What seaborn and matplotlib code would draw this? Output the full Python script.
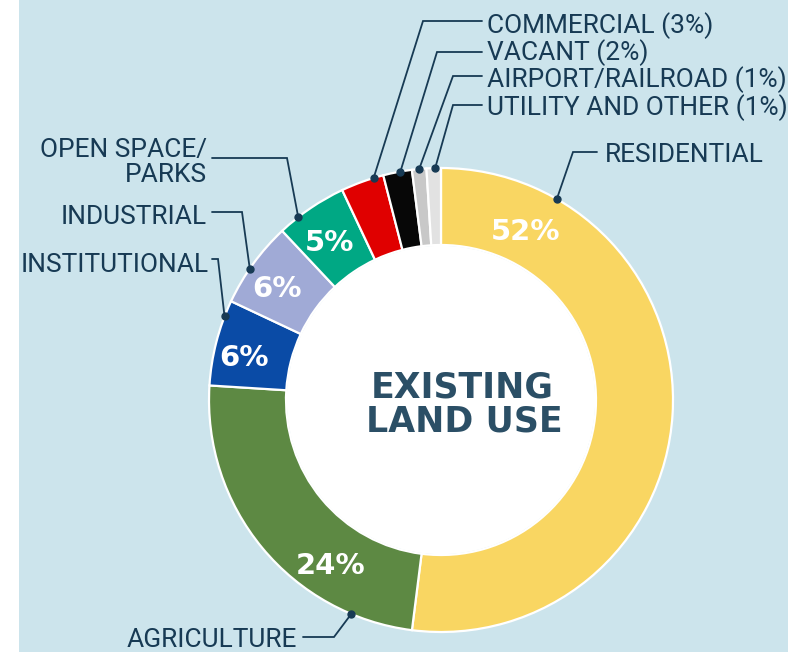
import matplotlib
matplotlib.use("Agg")
import matplotlib.pyplot as plt
import seaborn as sns
import numpy as np
from matplotlib.patches import Rectangle, Circle

# ---- data ----
categories = ["RESIDENTIAL", "AGRICULTURE", "INSTITUTIONAL", "INDUSTRIAL",
              "OPEN SPACE/\nPARKS", "COMMERCIAL", "VACANT", "AIRPORT/RAILROAD",
              "UTILITY AND OTHER"]
shares = [52, 24, 6, 6, 5, 3, 2, 1, 1]
colors = ["#F9D662", "#5D8943", "#0A4BA6", "#A0AAD6", "#00A884",
          "#E00000", "#070707", "#C8C8C8", "#E2E2E2"]
inside_labels = ["52%", "24%", "6%", "6%", "5%", None, None, None, None]
outside_labels = ["RESIDENTIAL", "AGRICULTURE", "INSTITUTIONAL", "INDUSTRIAL",
                  "OPEN SPACE/\nPARKS", "COMMERCIAL (3%)", "VACANT (2%)",
                  "AIRPORT/RAILROAD (1%)", "UTILITY AND OTHER (1%)"]

sns.set_theme(style="white")
plt.rcParams['font.family'] = ['Roboto', 'DejaVu Sans']

W, H = 788, 652
fig = plt.figure(figsize=(W / 100, H / 100), dpi=100)
fig.patch.set_facecolor("white")
ax = fig.add_axes([0, 0, 1, 1])

def P(x, y):
    """pixel (y down) -> data coords"""
    return x, H - y

CX, CY = P(441, 400)
R_OUT, R_IN = 232, 155

wedges, _ = ax.pie(shares, colors=colors, startangle=90, counterclock=False,
                   radius=R_OUT, center=(CX, CY),
                   wedgeprops=dict(width=R_OUT - R_IN, edgecolor="white",
                                   linewidth=1.6))
ax.set_xlim(0, W)
ax.set_ylim(0, H)
ax.set_aspect("equal")
ax.axis("off")
ax.add_patch(Rectangle((19, 0), W - 19, H, facecolor="#CCE4EC",
                       edgecolor="none", zorder=-10))
ax.add_patch(Circle((CX, CY), R_IN - 0.8, facecolor="white",
                    edgecolor="none", zorder=1))

def wedge_point(w, f, r):
    # f measured clockwise from wedge start
    ang = np.deg2rad(w.theta2 - f * (w.theta2 - w.theta1))
    return CX + r * np.cos(ang), CY + r * np.sin(ang)

VOFF = 3  # visual centring offset (px down)

# inside percentage labels
label_frac = [0.14, 0.31, 0.43, 0.45, 0.47]
label_rad = [191, 197, 202, 200, 195]
for i, lab in enumerate(inside_labels):
    if lab is None:
        continue
    x, y = wedge_point(wedges[i], label_frac[i], label_rad[i])
    ax.text(x, y - VOFF, lab, color="white", fontsize=21, fontweight="bold",
            family="DejaVu Sans", ha="center", va="center", zorder=4)

# centre title
title_col = "#2B4F66"
ax.text(*P(462, 388), "EXISTING", color=title_col, fontsize=25,
        fontweight="bold", family="DejaVu Sans", ha="center", va="center",
        zorder=4)
ax.text(*P(464, 422), "LAND USE", color=title_col, fontsize=25,
        fontweight="bold", family="DejaVu Sans", ha="center", va="center",
        zorder=4)

# leader lines: (dot fraction, elbow, end, text pos, ha)
line_col = "#173A54"
leaders = [
    (0.16, (573, 152), (597, 152), (605, 152), "left"),
    (0.18, (334, 637), (303, 637), (297, 637), "right"),
    (0.81, (218, 259), (212, 259), (209, 262), "right"),
    (0.43, (242, 212), (212, 212), (207, 214), "right"),
    (0.29, (287, 158), (212, 158), (207, 159), "right"),
    (0.77, (423, 21), (482, 21), (487, 23), "left"),
    (0.60, (437, 52), (482, 52), (487, 50), "left"),
    (0.50, (453, 76), (482, 76), (487, 77), "left"),
    (0.60, (453, 105), (482, 105), (487, 105), "left"),
]
FS = 18.9
for i, (f, elbow, end, tpos, ha) in enumerate(leaders):
    dx, dy = wedge_point(wedges[i], f, R_OUT)
    ex, ey = P(*elbow)
    nx, ny = P(*end)
    ax.plot([dx, ex, nx], [dy, ey, ny], color=line_col, lw=1.3,
            solid_joinstyle="miter", zorder=5)
    ax.plot([dx], [dy], "o", color=line_col, ms=5, zorder=6)
    lab = outside_labels[i]
    tx, ty = tpos[0], tpos[1] + VOFF
    if "\n" in lab:
        l1, l2 = lab.split("\n")
        ax.text(*P(tx, ty - 12), l1, color=line_col, fontsize=FS,
                ha=ha, va="center")
        ax.text(*P(tx, ty + 13), l2, color=line_col, fontsize=FS,
                ha=ha, va="center")
    else:
        ax.text(*P(tx, ty), lab, color=line_col, fontsize=FS, ha=ha,
                va="center")

fig.savefig("out.png", dpi=100, facecolor=fig.get_facecolor())
